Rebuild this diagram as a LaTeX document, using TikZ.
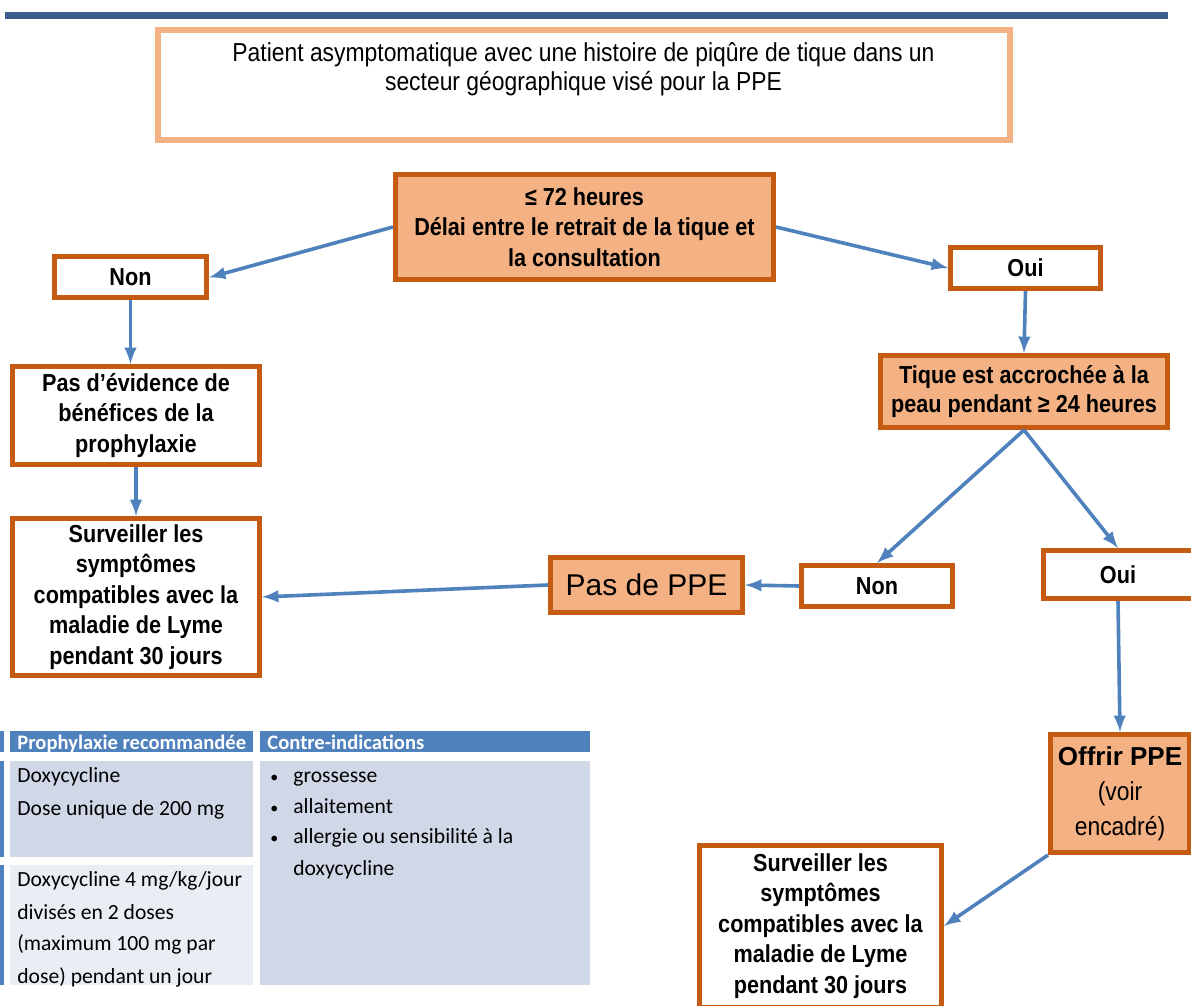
\documentclass[tikz,border=0pt]{standalone}
\usepackage{fontspec}
\setmainfont{Liberation Sans}
\newfontfamily\condfont{Liberation Sans}[FakeStretch=0.88]
\newfontfamily\tabfont{Carlito}
\usetikzlibrary{positioning}

\definecolor{barblue}{HTML}{3B5E8C}
\definecolor{peach}{HTML}{F4B183}
\definecolor{rust}{HTML}{C55A11}
\definecolor{arrowblue}{HTML}{4F81BD}
\definecolor{rowdark}{HTML}{D0D8E8}
\definecolor{rowlight}{HTML}{E9EDF4}

\tikzset{
  decision/.style={draw=rust, line width=2.5pt, fill=peach, align=center,
    font=\condfont\bfseries\fontsize{12.3}{15.2}\selectfont, inner sep=2pt},
  answer/.style={draw=rust, line width=2.5pt, fill=white, align=center,
    font=\condfont\bfseries\fontsize{12.3}{15.2}\selectfont, inner sep=2pt},
  flow/.style={-latex, arrowblue, line width=1.8pt},
  celltext/.style={anchor=base west, inner sep=0pt, font=\tabfont\fontsize{10.8}{12}\selectfont}
}

\begin{document}
\begin{tikzpicture}[x=0.5pt,y=-0.5pt]
\useasboundingbox (0,0) rectangle (1191,1006);
\fill[barblue] (5,12) rectangle (1168,19);

% question de depart
\node[draw=peach, line width=3pt, minimum width=426pt, minimum height=55pt] (patient) at (583.5,85) {};
\node[align=center, font=\condfont\fontsize{13}{14.5}\selectfont] (patientTxt) at (583.5,69)
  {Patient asymptomatique avec une histoire de piqûre de tique dans un\\
   secteur géographique visé pour la PPE};

\node[decision, minimum width=189pt, minimum height=52.5pt] (delay) at (584.5,227)
  {≤ 72 heures\\Délai entre le retrait de la tique et\\la consultation};
\node[answer, minimum width=76pt, minimum height=20.5pt] (nonL) at (130.5,277.5) {Non};
\node[answer, minimum width=75pt, minimum height=20.5pt] (ouiT) at (1025.5,268) {Oui};
\node[answer, minimum width=123.5pt, minimum height=49pt] (evid) at (136,415.5)
  {Pas d’évidence de\\bénéfices de la\\prophylaxie};
\node[decision, minimum width=143.5pt, minimum height=36pt, font=\condfont\bfseries\fontsize{12.3}{14.5}\selectfont] (tique) at (1024,391.5)
  {Tique est accrochée à la\\peau pendant ≥ 24 heures};
\node[answer, minimum width=123.5pt, minimum height=78.5pt] (survL) at (136,597)
  {Surveiller les\\symptômes\\compatibles avec la\\maladie de Lyme\\pendant 30 jours};
\node[decision, minimum width=96pt, minimum height=27.5pt, font=\fontsize{15}{18}\selectfont] (ppe) at (646.5,585) {Pas de PPE};
\node[answer, minimum width=75.5pt, minimum height=20.5pt] (nonM) at (877,586) {Non};
\node[answer, minimum width=75pt, minimum height=24pt] (ouiR) at (1118,574.5) {Oui};
\node[decision, minimum width=69.5pt, minimum height=59pt, font=\condfont\fontsize{13}{17.5}\selectfont] (offre) at (1120,793.5)
  {\bfseries\fontspec{Liberation Sans}Offrir PPE\\(voir\\encadré)};
\node[answer, minimum width=121pt, minimum height=81pt] (survB) at (820.5,926)
  {Surveiller les\\symptômes\\compatibles avec la\\maladie de Lyme\\pendant 30 jours};

\draw[flow] (delay.west) -- (nonL.east);
\draw[flow] (delay.east) -- (ouiT.west);
\draw[flow] (nonL.south) -- (nonL.south |- evid.north);
\draw[flow] (evid.south) -- (survL.north);
\draw[flow] (ouiT.south) -- (tique.north);
\draw[flow] (tique.south) -- (nonM.north);
\draw[flow] (tique.south) -- (ouiR.north);
\draw[flow] (nonM.west) -- (ppe.east);
\draw[flow] (ppe.west) -- (survL.east);
\draw[flow] (ouiR.south) -- (offre.north);
\draw[flow] (offre.south west) -- (survB.east);

% encadre de prophylaxie
\fill[arrowblue] (0,731) rectangle (4,752);
\fill[arrowblue] (0,761) rectangle (4,857);
\fill[arrowblue] (0,865) rectangle (4,985);
\fill[arrowblue] (10,731) rectangle (253,752);
\fill[arrowblue] (260,731) rectangle (590,752);
\fill[rowdark] (10,761) rectangle (253,857);
\fill[rowlight] (10,865) rectangle (253,985);
\fill[rowdark] (260,761) rectangle (590,985);
\node[celltext, text=white, font=\tabfont\bfseries\fontsize{10.3}{12}\selectfont] (hdrA) at (17,749) {Prophylaxie recommandée};
\node[celltext, text=white, font=\tabfont\bfseries\fontsize{10.3}{12}\selectfont] (hdrB) at (267,749) {Contre-indications};
\node[celltext] (adultA) at (17,782) {Doxycycline};
\node[celltext] (adultB) at (17,815) {Dose unique de 200 mg};
\node[celltext] (childA) at (17,886) {Doxycycline 4 mg/kg/jour};
\node[celltext] (childB) at (17,919) {divisés en 2 doses};
\node[celltext] (childC) at (17,950) {(maximum 100 mg par};
\node[celltext] (childD) at (17,983) {dose) pendant un jour};
\foreach \y/\t [count=\i] in {782/grossesse, 813/allaitement, 843/allergie ou sensibilité à la} {
  \node[celltext, font=\tabfont\fontsize{8}{10}\selectfont] (bul\i) at (270,\y) {•};
  \node[celltext] (ci\i) at (293,\y) {\t};
}
\node[celltext] (ci4) at (293,875) {doxycycline};
\end{tikzpicture}
\end{document}
